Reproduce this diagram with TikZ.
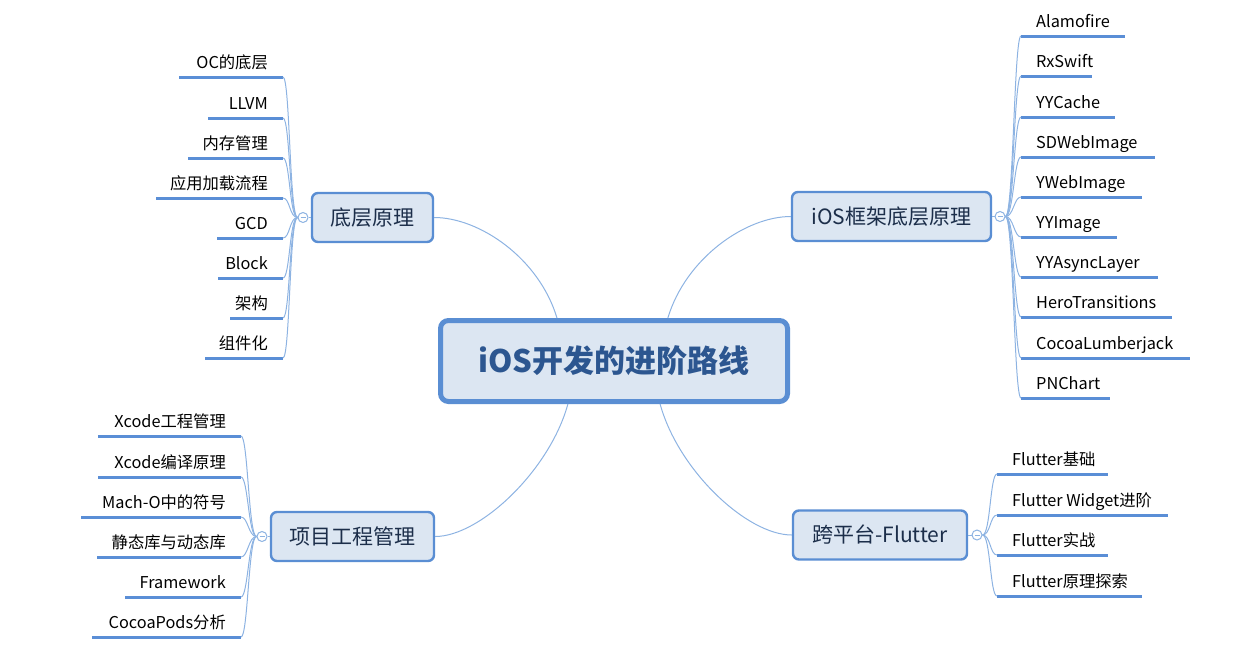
\documentclass[tikz,border=0pt]{standalone}
\usepackage{fontspec}
\setmainfont{Noto Sans CJK SC}
\usetikzlibrary{calc}
\definecolor{boxfill}{HTML}{DCE6F2}
\definecolor{boxline}{HTML}{5A8ED3}
\definecolor{ctext}{HTML}{2C5690}
\definecolor{btext}{HTML}{1C2E4A}
\definecolor{barcol}{HTML}{5A8ED6}
\definecolor{conncol}{HTML}{8DB3E2}
\tikzset{
  centerbox/.style={draw=boxline, line width=5pt, fill=boxfill, rounded corners=8pt,
    minimum width=347pt, minimum height=81pt, text=ctext, inner sep=0pt,
    font=\fontsize{31}{37}\selectfont\bfseries},
  branch/.style={draw=boxline, line width=2.4pt, fill=boxfill, rounded corners=6pt,
    minimum height=49pt, text=btext, inner sep=0pt, font=\fontsize{21}{25}\selectfont},
  leaf/.style={inner sep=0pt, text=black, font=\fontsize{16.3}{19}\selectfont},
  bar/.style={draw=barcol, line width=3pt},
  conn/.style={draw=conncol, line width=1pt},
  collapse/.style={circle, draw=conncol, line width=1pt, fill=white, minimum size=10pt, inner sep=0pt},
}
% left-side leaf: name, bar left x, bar y, text, bar right x
\newcommand\lleaf[5]{%
  \coordinate (#1s) at (#2,#3);
  \coordinate (#1e) at (#5,#3);
  \draw[bar] (#1s) -- (#1e);
  \node[leaf,anchor=base east] (#1) at ($(#5,#3)+(-15,-9)$) {#4};}
% right-side leaf: name, bar left x, bar y, text, bar right x
\newcommand\rleaf[5]{%
  \coordinate (#1s) at (#2,#3);
  \coordinate (#1e) at (#5,#3);
  \draw[bar] (#1s) -- (#1e);
  \node[leaf,anchor=base west] (#1) at ($(#2,#3)+(15,-9)$) {#4};}
\newcommand\minusmark[1]{\draw[conncol, line width=0.8pt] ($(#1.center)+(-2.5,0)$) -- ($(#1.center)+(2.5,0)$);}
\begin{document}
\begin{tikzpicture}[x=1pt,y=-1pt]
\useasboundingbox (0,0) rectangle (1240,664);

% centre
\node[centerbox] (C) at (614,361) {iOS开发的进阶路线};

% branches
\node[branch, minimum width=121pt] (B1) at (372.5,217.5) {底层原理};
\node[branch, minimum width=199pt] (B2) at (891.5,216.5) {iOS框架底层原理};
\node[branch, minimum width=163pt] (B3) at (352.5,536.5) {项目工程管理};
\node[branch, minimum width=174pt] (B4) at (880,535) {跨平台-Flutter};

% centre to branches
\coordinate (Ctl) at ($(C.north west)!0.338!(C.north east)$);
\coordinate (Ctr) at ($(C.north west)!0.653!(C.north east)$);
\coordinate (Cbl) at ($(C.south west)!0.369!(C.south east)$);
\coordinate (Cbr) at ($(C.south west)!0.631!(C.south east)$);
\draw[conn] (Ctl) .. controls ($(Ctl)+(-18,-60)$) and ($(B1.east)+(45,0)$) .. (B1.east);
\draw[conn] (Ctr) .. controls ($(Ctr)+(18,-60)$) and ($(B2.west)+(-45,0)$) .. (B2.west);
\draw[conn] (Cbl) .. controls ($(Cbl)+(-18,66)$) and ($(B3.east)+(45,0)$) .. (B3.east);
\draw[conn] (Cbr) .. controls ($(Cbr)+(18,66)$) and ($(B4.west)+(-45,0)$) .. (B4.west);

% collapse markers
\node[collapse] (K1) at (303,217.5) {};
\node[collapse] (K2) at (1000,216.5) {};
\node[collapse] (K3) at (262,536.5) {};
\node[collapse] (K4) at (977,535) {};
\draw[conn] (B1.west) -- (K1.east);
\draw[conn] (B2.east) -- (K2.west);
\draw[conn] (B3.west) -- (K3.east);
\draw[conn] (B4.east) -- (K4.west);

% ---- 底层原理 leaves
\lleaf{a1}{179}{77}{OC的底层}{283}
\lleaf{a2}{208}{118}{LLVM}{283}
\lleaf{a3}{188}{158}{内存管理}{283}
\lleaf{a4}{156}{198}{应用加载流程}{283}
\lleaf{a5}{217}{238}{GCD}{283}
\lleaf{a6}{218}{278}{Block}{283}
\lleaf{a7}{230}{318}{架构}{283}
\lleaf{a8}{205}{358}{组件化}{283}
\foreach \i in {1,...,8}
  \draw[conn] (K1.west) .. controls ($(K1.west)+(-8,0)$) and ($(a\i e)+(7,0)$) .. (a\i e);

% ---- iOS框架底层原理 leaves
\rleaf{b1}{1021}{36}{Alamofire}{1125}
\rleaf{b2}{1021}{76}{RxSwift}{1092}
\rleaf{b3}{1021}{117}{YYCache}{1115}
\rleaf{b4}{1021}{157}{SDWebImage}{1155}
\rleaf{b5}{1021}{197}{YWebImage}{1142}
\rleaf{b6}{1021}{237}{YYImage}{1117}
\rleaf{b7}{1021}{277}{YYAsyncLayer}{1158}
\rleaf{b8}{1021}{317}{HeroTransitions}{1172}
\rleaf{b9}{1021}{358}{CocoaLumberjack}{1190}
\rleaf{b10}{1021}{398}{PNChart}{1110}
\foreach \i in {1,...,10}
  \draw[conn] (K2.east) .. controls ($(K2.east)+(8,0)$) and ($(b\i s)+(-7,0)$) .. (b\i s);

% ---- 项目工程管理 leaves
\lleaf{c1}{98}{436}{Xcode工程管理}{241}
\lleaf{c2}{98}{477}{Xcode编译原理}{241}
\lleaf{c3}{81}{517}{Mach-O中的符号}{241}
\lleaf{c4}{97}{557}{静态库与动态库}{241}
\lleaf{c5}{125}{597}{Framework}{241}
\lleaf{c6}{92}{637}{CocoaPods分析}{241}
\foreach \i in {1,...,6}
  \draw[conn] (K3.west) .. controls ($(K3.west)+(-8,0)$) and ($(c\i e)+(7,0)$) .. (c\i e);

% ---- 跨平台-Flutter leaves
\rleaf{d1}{997}{474}{Flutter基础}{1108}
\rleaf{d2}{997}{515}{Flutter Widget进阶}{1168}
\rleaf{d3}{997}{555}{Flutter实战}{1108}
\rleaf{d4}{997}{596}{Flutter原理探索}{1142}
\foreach \i in {1,...,4}
  \draw[conn] (K4.east) .. controls ($(K4.east)+(8,0)$) and ($(d\i s)+(-7,0)$) .. (d\i s);

\minusmark{K1}\minusmark{K2}\minusmark{K3}\minusmark{K4}
\end{tikzpicture}
\end{document}
